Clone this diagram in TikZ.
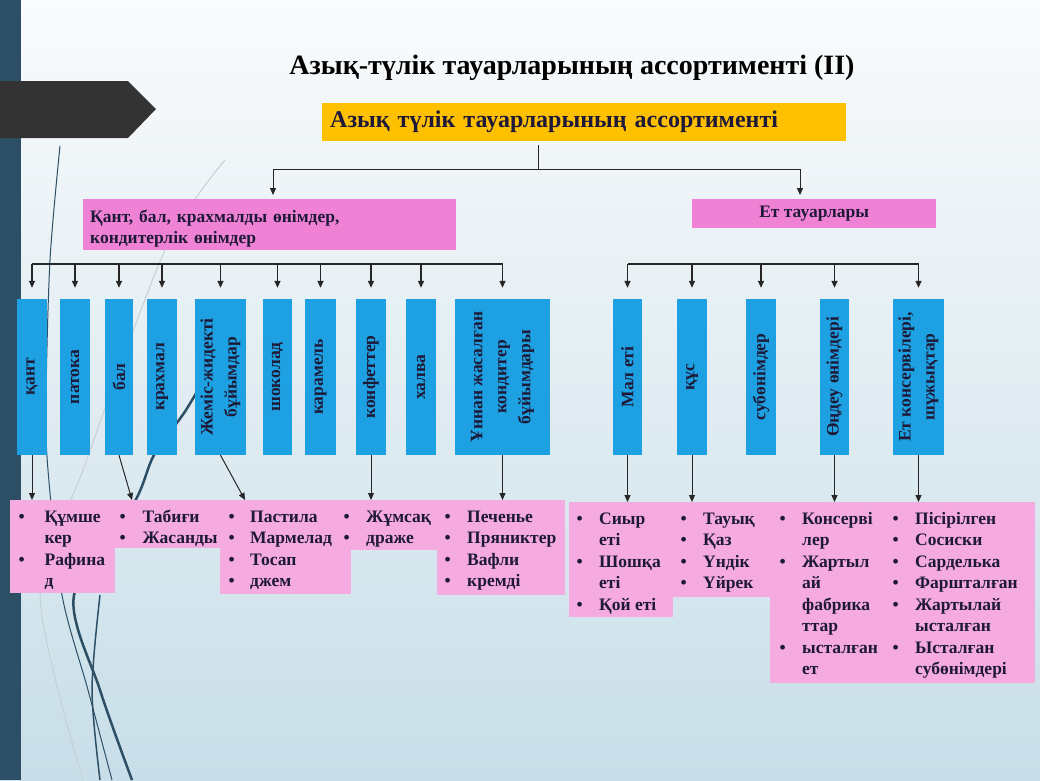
\documentclass[tikz,border=0pt]{standalone}
\usepackage{fontspec}
\setmainfont{Liberation Serif}
\usetikzlibrary{arrows.meta,positioning,calc}
\definecolor{barblue}{RGB}{44,79,102}
\definecolor{tagdark}{RGB}{51,51,51}
\definecolor{headorange}{RGB}{255,192,0}
\definecolor{catpink}{RGB}{240,130,214}
\definecolor{listpink}{RGB}{245,170,224}
\definecolor{boxblue}{RGB}{29,161,226}
\definecolor{inkdark}{RGB}{30,25,55}
\definecolor{linkdark}{RGB}{38,38,38}
\definecolor{wispdark}{RGB}{44,79,102}
\definecolor{wispgray}{RGB}{198,208,214}
\definecolor{bgtop}{RGB}{250,251,252}
\definecolor{bgbottom}{RGB}{200,222,232}
% width, height, left pad, bullet column, rows
\newcommand{\itemlist}[5]{\parbox[c][#2pt][t]{#1pt}{\vspace*{7pt}\hspace*{#3pt}\begin{tabular}[t]{@{}p{#4pt}@{}l@{}}#5\end{tabular}}}

\begin{document}
\begin{tikzpicture}[x=1pt,y=-1pt,
    catbox/.style={fill=boxblue, rotate=90, minimum width=156pt, minimum height=#1,
      inner sep=0pt, align=center, text=inkdark, font=\fontsize{17.5}{24}\selectfont\bfseries},
    listbox/.style={fill=listpink, inner sep=0pt, anchor=north west, text=inkdark,
      font=\fontsize{17.5}{21.5}\selectfont\bfseries},
    groupbox/.style={fill=catpink, inner sep=0pt, anchor=north west, text=inkdark,
      font=\fontsize{17.5}{21}\selectfont\bfseries},
    link/.style={draw=linkdark, line width=1pt},
    arr/.style={link, -{Triangle[width=6pt,length=7pt]}},
    busarr/.style={arr, line width=1.4pt, shorten >=11pt}]
  \useasboundingbox (0,0) rectangle (1040,780);
  \shade[top color=bgtop, bottom color=bgbottom] (0,0) rectangle (1040,780);

  % background strokes
  \draw[wispgray, line width=1pt] plot[smooth] coordinates {(225,160) (165,250) (83,470) (40,595) (83,780)};
  \draw[wispdark, line width=1pt] plot[smooth] coordinates {(60,146) (50,260) (46,400) (48,470) (62,595) (88,690) (112,780)};
  \draw[wispdark, line width=2.5pt] plot[smooth] coordinates {(215,360) (186,410) (154,455) (134,503) (74,595) (100,690) (132,780)};
  \draw[wispdark, line width=1.5pt] plot[smooth] coordinates {(100,595) (92,690) (100,780)};

  \fill[barblue] (0,0) rectangle (21,780);
  \fill[tagdark] (0,81) -- (128,81) -- (156,109) -- (128,138) -- (0,138) -- cycle;

  % title and top level
  \node[text=black, font=\fontsize{28}{32}\selectfont\bfseries] (title) at (572,68)
    {Азық-түлік тауарларының ассортименті (II)};
  \node[fill=headorange, anchor=north west, minimum height=38pt, text width=508pt,
    inner xsep=8pt, inner ysep=0pt, align=left, text=inkdark,
    font=\fontsize{24}{28}\selectfont\bfseries] (head) at (322,103)
    {Азық түлік тауарларының ассортименті};
  \node[groupbox, minimum width=373pt, minimum height=51pt, text width=359pt,
    inner xsep=7pt, align=left] (sweets) at (83,199)
    {\rule{0pt}{20pt}Қант, бал, крахмалды өнімдер,\\ кондитерлік өнімдер};
  \node[groupbox, minimum width=244pt, minimum height=29pt] (meat) at (692,199) {Ет тауарлары};

  \coordinate (hubtop) at (538,145);
  \coordinate (hub) at (538,169);
  \draw[link] (hubtop) -- (hub);
  \draw[arr, shorten >=4pt] (hub) -| ($(sweets.north west)+(190,0)$);
  \draw[arr, shorten >=4pt] (hub) -| ($(meat.north west)+(108,0)$);

  % sweets group
  \node[catbox=30pt] (kant) at (32,377) {қант};
  \node[catbox=30pt] (patoka) at (75,377) {патока};
  \node[catbox=28pt] (bal) at (119,377) {бал};
  \node[catbox=30pt] (krahmal) at (162,377) {крахмал};
  \node[catbox=51pt] (jemis) at (220.5,377) {Жеміс-жидекті\\ бұйымдар};
  \node[catbox=29pt] (shokolad) at (277.5,377) {шоколад};
  \node[catbox=31pt] (karamel) at (320.5,377) {карамель};
  \node[catbox=30pt] (konfet) at (371,377) {конфеттер};
  \node[catbox=30pt] (halva) at (421,377) {халва};
  \node[catbox=95pt] (unnan) at (502.5,377) {Ұннан жасалған\\ кондитер\\ бұйымдары};

  % meat group
  \node[catbox=29pt] (mal) at (627.5,377) {Мал еті};
  \node[catbox=30pt] (kus) at (692,377) {құс};
  \node[catbox=30pt] (subonim) at (761,377) {субөнімдер};
  \node[catbox=29pt] (ondeu) at (834.5,377) {Өңдеу өнімдері};
  \node[catbox=51pt] (konserv) at (918.5,377) {Ет консервілері,\\ шұжықтар};

  \coordinate (bus) at (0,264);
  \draw[link, line width=1.2pt] (kant.east |- bus) -- (unnan.east |- bus);
  \draw[link, line width=1.2pt] (mal.east |- bus) -- (konserv.east |- bus);
  \foreach \b in {kant,patoka,bal,krahmal,jemis,shokolad,karamel,konfet,halva,unnan,
      mal,kus,subonim,ondeu,konserv}
    \draw[busarr] (\b.east |- bus) -- (\b.east);

  % item lists
  \node[listbox] (lkant) at (10,500) {\itemlist{105}{93}{8.5}{26}{%
    \textbullet & Құмше\\ & кер\\ \textbullet & Рафина\\ & д}};
  \node[listbox] (ltabigi) at (115,500) {\itemlist{107}{48}{4.5}{23}{%
    \textbullet & Табиғи\\ \textbullet & Жасанды}};
  \node[listbox] (lpastila) at (220,500) {\itemlist{131}{94}{8.5}{21.5}{%
    \textbullet & Пастила\\ \textbullet & Мармелад\\ \textbullet & Тосап\\ \textbullet & джем}};
  \node[listbox] (ljumsak) at (340,500) {\itemlist{100}{50}{3.5}{22.5}{%
    \textbullet & Жұмсақ\\ \textbullet & драже}};
  \node[listbox] (lpechene) at (437,500) {\itemlist{128}{95}{7.5}{22.5}{%
    \textbullet & Печенье\\ \textbullet & Пряниктер\\ \textbullet & Вафли\\ \textbullet & кремді}};
  \node[listbox] (lsiyr) at (569,502) {\itemlist{104}{115}{7.5}{22.5}{%
    \textbullet & Сиыр\\ & еті\\ \textbullet & Шошқа\\ & еті\\ \textbullet & Қой еті}};
  \node[listbox] (ltauyk) at (673,502) {\itemlist{97}{95}{7.5}{22.5}{%
    \textbullet & Тауық\\ \textbullet & Қаз\\ \textbullet & Үндік\\ \textbullet & Үйрек}};
  \node[listbox] (lkonserv) at (770,502) {\itemlist{115}{181}{9.5}{22.5}{%
    \textbullet & Консерві\\ & лер\\ \textbullet & Жартыл\\ & ай\\ & фабрика\\ & ттар\\
    \textbullet & ысталған\\ & ет}};
  \node[listbox] (lpisir) at (885,502) {\itemlist{150}{181}{7.5}{22.5}{%
    \textbullet & Пісірілген\\ \textbullet & Сосиски\\ \textbullet & Сарделька\\
    \textbullet & Фаршталған\\ \textbullet & Жартылай\\ & ысталған\\ \textbullet & Ысталған\\
    & субөнімдері}};

  \draw[arr] (kant.west) -- (kant.west |- lkant.north);
  \draw[arr] (bal.west) -- ($(ltabigi.north west)+(17,0)$);
  \draw[arr] (jemis.west) -- ($(lpastila.north west)+(25,0)$);
  \draw[arr] (konfet.west) -- (konfet.west |- ljumsak.north);
  \draw[arr] (unnan.west) -- (unnan.west |- lpechene.north);
  \draw[arr] (mal.west) -- (mal.west |- lsiyr.north);
  \draw[arr] (kus.west) -- (kus.west |- ltauyk.north);
  \draw[arr] (ondeu.west) -- (ondeu.west |- lkonserv.north);
  \draw[arr] (konserv.west) -- (konserv.west |- lpisir.north);
\end{tikzpicture}
\end{document}
